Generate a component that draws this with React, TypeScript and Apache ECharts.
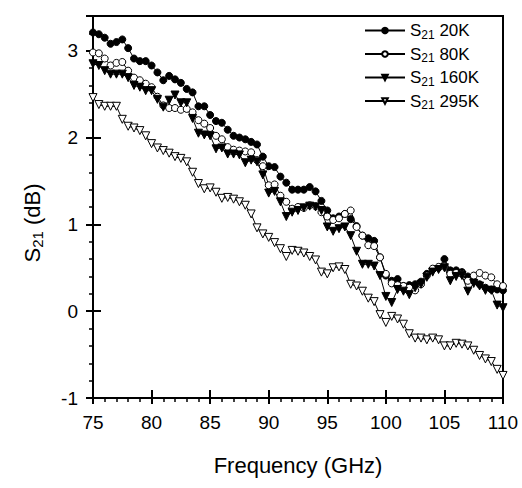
import { useEffect, useRef } from 'react';
import * as echarts from 'echarts';

const freq = [
  75, 75.5, 76, 76.5, 77, 77.5, 78, 78.5, 79, 79.5,
  80, 80.5, 81, 81.5, 82, 82.5, 83, 83.5, 84, 84.5,
  85, 85.5, 86, 86.5, 87, 87.5, 88, 88.5, 89, 89.5,
  90, 90.5, 91, 91.5, 92, 92.5, 93, 93.5, 94, 94.5,
  95, 95.5, 96, 96.5, 97, 97.5, 98, 98.5, 99, 99.5,
  100, 100.5, 101, 101.5, 102, 102.5, 103, 103.5, 104, 104.5,
  105, 105.5, 106, 106.5, 107, 107.5, 108, 108.5, 109, 109.5,
  110,
];

const s20K = [
  3.21, 3.19, 3.15, 3.08, 3.10, 3.13, 3.03, 2.91, 2.88, 2.88,
  2.83, 2.75, 2.66, 2.71, 2.67, 2.63, 2.56, 2.52, 2.36, 2.36,
  2.26, 2.19, 2.17, 2.09, 2.02, 2.00, 1.98, 1.95, 1.92, 1.78,
  1.67, 1.66, 1.55, 1.48, 1.40, 1.40, 1.40, 1.43, 1.38, 1.27,
  1.16, 1.07, 1.09, 1.12, 1.06, 0.98, 0.87, 0.84, 0.81, 0.62,
  0.41, 0.35, 0.37, 0.29, 0.30, 0.31, 0.34, 0.43, 0.48, 0.50,
  0.60, 0.47, 0.47, 0.45, 0.40, 0.35, 0.31, 0.27, 0.25, 0.25,
  0.24,
];

const s80K = [
  2.98, 2.97, 2.91, 2.83, 2.86, 2.87, 2.77, 2.69, 2.66, 2.62,
  2.58, 2.47, 2.37, 2.34, 2.34, 2.32, 2.33, 2.29, 2.20, 2.16,
  2.11, 2.02, 1.98, 1.89, 1.86, 1.85, 1.84, 1.83, 1.74, 1.67,
  1.45, 1.46, 1.33, 1.26, 1.18, 1.20, 1.19, 1.22, 1.21, 1.14,
  1.09, 1.05, 1.07, 1.12, 1.16, 0.97, 0.87, 0.76, 0.75, 0.62,
  0.43, 0.32, 0.30, 0.29, 0.27, 0.24, 0.31, 0.41, 0.49, 0.51,
  0.52, 0.43, 0.44, 0.43, 0.35, 0.41, 0.44, 0.41, 0.39, 0.31,
  0.29,
];

const s160K = [
  2.85, 2.83, 2.77, 2.73, 2.73, 2.73, 2.69, 2.60, 2.58, 2.54,
  2.54, 2.44, 2.35, 2.43, 2.49, 2.40, 2.40, 2.22, 2.05, 2.03,
  2.02, 1.87, 1.88, 1.81, 1.81, 1.80, 1.71, 1.74, 1.72, 1.57,
  1.36, 1.38, 1.26, 1.09, 1.14, 1.16, 1.19, 1.21, 1.20, 1.16,
  0.97, 0.92, 0.95, 0.97, 0.87, 0.69, 0.54, 0.54, 0.52, 0.41,
  0.17, 0.10, 0.25, 0.23, 0.19, 0.27, 0.31, 0.39, 0.45, 0.48,
  0.50, 0.35, 0.40, 0.41, 0.23, 0.32, 0.29, 0.24, 0.24, 0.07,
  0.04,
];

const s295K = [
  2.46, 2.38, 2.36, 2.36, 2.36, 2.21, 2.13, 2.11, 2.08, 2.02,
  1.93, 1.88, 1.85, 1.82, 1.78, 1.76, 1.72, 1.60, 1.47, 1.41,
  1.42, 1.37, 1.30, 1.31, 1.29, 1.26, 1.22, 1.12, 0.96, 0.89,
  0.85, 0.79, 0.72, 0.63, 0.70, 0.69, 0.67, 0.63, 0.59, 0.45,
  0.43, 0.50, 0.51, 0.48, 0.31, 0.29, 0.23, 0.15, 0.11, -0.04,
  -0.13, -0.06, -0.09, -0.15, -0.26, -0.31, -0.31, -0.33, -0.31, -0.33,
  -0.40, -0.40, -0.37, -0.38, -0.40, -0.45, -0.51, -0.55, -0.58, -0.67,
  -0.74,
];

const seriesNames = ['20K', '80K', '160K', '295K'];
const xTicks = [75, 80, 85, 90, 95, 100, 105, 110];
const yTicks = [-1, 0, 1, 2, 3];

export default function App() {
  const ref = useRef<HTMLDivElement>(null);

  useEffect(() => {
    if (!ref.current) return;
    const chart = echarts.init(ref.current, null, { renderer: 'svg' });
    const font = "'Liberation Sans', Arial, Helvetica, sans-serif";
    const black = '#000';

    const mk = (name: string, vals: number[], symbol: string, filled: boolean, size: number) => ({
      name,
      type: 'line',
      data: freq.map((f, i) => [f, vals[i]]),
      symbol,
      symbolSize: size,
      symbolRotate: symbol === 'triangle' ? 180 : 0,
      showAllSymbol: true,
      xAxisIndex: 0,
      yAxisIndex: 0,
      lineStyle: { color: black, width: 1 },
      itemStyle: { color: filled ? black : '#fff', borderColor: black, borderWidth: 1 },
      emphasis: { disabled: true },
    });

    const baseX = {
      type: 'value',
      min: xTicks[0],
      max: xTicks[xTicks.length - 1],
      position: 'bottom',
      splitLine: { show: false },
      gridIndex: 0,
    };
    const baseY = {
      type: 'value',
      min: yTicks[0],
      max: 3.4,
      position: 'left',
      splitLine: { show: false },
      gridIndex: 0,
    };

    const legendRich = {
      m: { fontSize: 17, fontFamily: font, color: black, lineHeight: 20, verticalAlign: 'middle' },
      s: { fontSize: 12, fontFamily: font, color: black, lineHeight: 6, verticalAlign: 'bottom' },
    };

    chart.setOption({
      animation: false,
      backgroundColor: '#fff',
      grid: {
        left: 93,
        right: 19,
        top: 16,
        bottom: 90,
        show: true,
        borderColor: black,
        borderWidth: 2,
        backgroundColor: 'transparent',
      },
      legend: {
        orient: 'vertical',
        left: 359,
        top: 17,
        itemWidth: 40,
        itemHeight: 7,
        itemGap: 5,
        selectedMode: false,
        data: seriesNames,
        formatter: (name: string) => `{m|S}{s|21}{m| ${name}}`,
        textStyle: { color: black, fontFamily: font, fontSize: 17, rich: legendRich },
      },
      xAxis: [
        {
          ...baseX,
          interval: 5,
          axisLine: { show: true, onZero: false, lineStyle: { color: black, width: 2 } },
          axisTick: { show: true, inside: false, length: 6, lineStyle: { color: black, width: 2 } },
          axisLabel: { color: black, fontSize: 19, fontFamily: font, margin: 15 },
          name: 'Frequency (GHz)',
          nameLocation: 'middle',
          nameGap: 56,
          nameTextStyle: { color: black, fontSize: 22, fontFamily: font },
        },
        {
          ...baseX,
          interval: 1,
          axisLine: { show: false, onZero: false },
          axisTick: { show: true, inside: false, length: 4, lineStyle: { color: black, width: 1.5 } },
          axisLabel: { show: false },
        },
        {
          ...baseX,
          interval: 5,
          axisLine: { show: false, onZero: false },
          axisTick: { show: true, inside: true, length: 8, lineStyle: { color: black, width: 2 } },
          axisLabel: { show: false },
        },
      ],
      yAxis: [
        {
          ...baseY,
          interval: 1,
          axisLine: { show: true, onZero: false, lineStyle: { color: black, width: 2 } },
          axisTick: { show: true, inside: false, length: 7, lineStyle: { color: black, width: 2 } },
          axisLabel: {
            color: black,
            fontSize: 19,
            fontFamily: font,
            margin: 15,
            formatter: (v: number) => (yTicks.includes(v) ? String(v) : ''),
          },
          name: '{m|S}{s|21}{m| (dB)}',
          nameLocation: 'middle',
          nameGap: 48,
          nameTextStyle: {
            color: black,
            fontSize: 22,
            fontFamily: font,
            padding: [0, 32, 0, 0],
            rich: {
              m: { fontSize: 22, fontFamily: font, color: black, lineHeight: 26, verticalAlign: 'middle' },
              s: { fontSize: 15, fontFamily: font, color: black, lineHeight: 8, verticalAlign: 'bottom' },
            },
          },
        },
        {
          ...baseY,
          interval: 0.2,
          axisLine: { show: false, onZero: false },
          axisTick: { show: true, inside: false, length: 4, lineStyle: { color: black, width: 1.5 } },
          axisLabel: { show: false },
        },
        {
          ...baseY,
          interval: 1,
          axisLine: { show: false, onZero: false },
          axisTick: { show: true, inside: true, length: 8, lineStyle: { color: black, width: 2 } },
          axisLabel: { show: false },
        },
      ],
      series: [
        mk(seriesNames[0], s20K, 'circle', true, 7),
        mk(seriesNames[1], s80K, 'circle', false, 7),
        mk(seriesNames[2], s160K, 'triangle', true, 8),
        mk(seriesNames[3], s295K, 'triangle', false, 8),
      ],
    });

    return () => {
      chart.dispose();
    };
  }, []);

  return (
    <div
      ref={ref}
      style={{ position: 'absolute', left: 0, top: 0, width: 522, height: 488, background: '#fff' }}
    />
  );
}
